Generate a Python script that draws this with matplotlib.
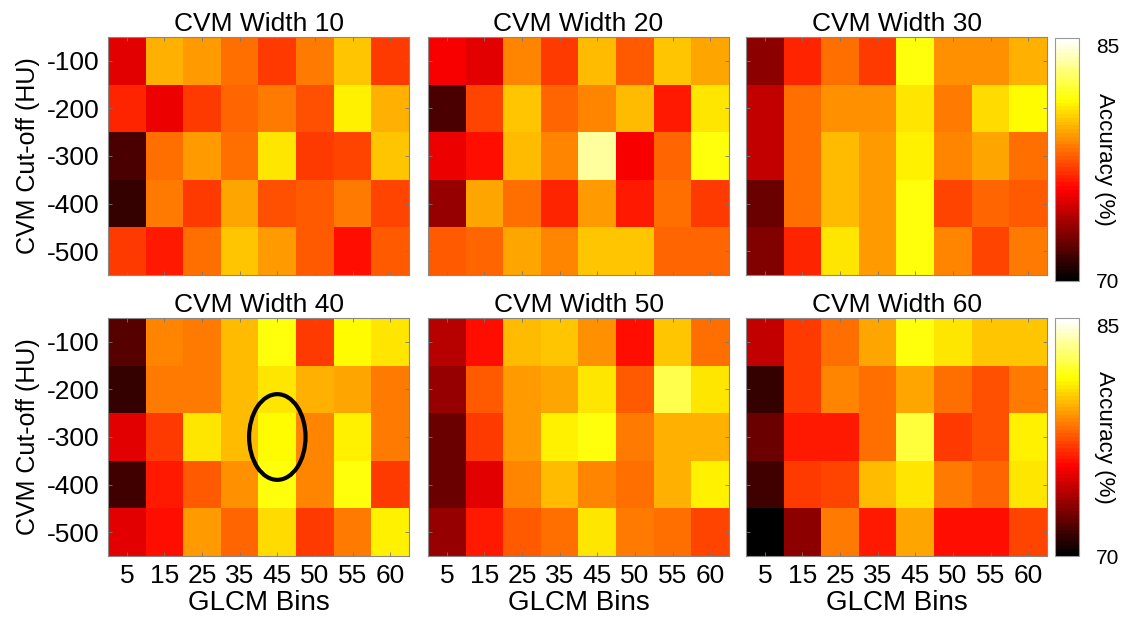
"""CVM width x cut-off x GLCM bins accuracy heatmaps (2x3 panels)."""

import matplotlib
matplotlib.use("Agg")
import matplotlib.pyplot as plt
from matplotlib.colors import LinearSegmentedColormap
from matplotlib.patches import Ellipse
import numpy as np

plt.rcParams["font.family"] = ["Liberation Sans", "DejaVu Sans"]

glcm_bins = ["5", "15", "25", "35", "45", "50", "55", "60"]
cutoffs = ["-100", "-200", "-300", "-400", "-500"]
widths = [10, 20, 30, 40, 50, 60]
vmin, vmax = 70, 85

# accuracy (%) rows = cut-off, cols = GLCM bins
acc_w10 = [
    [75.1, 79.5, 79.1, 78.1, 77.0, 78.3, 80.0, 76.9],
    [76.5, 75.3, 77.0, 77.9, 78.4, 77.4, 80.9, 79.5],
    [71.8, 78.1, 79.1, 78.1, 80.6, 76.9, 77.2, 80.0],
    [71.3, 78.3, 76.9, 79.3, 77.4, 77.6, 78.3, 77.2],
    [76.9, 76.2, 78.1, 80.0, 79.1, 77.6, 76.0, 77.6],
]
acc_w20 = [
    [75.6, 75.1, 78.6, 77.0, 79.7, 77.6, 80.0, 79.3],
    [71.7, 77.2, 79.9, 77.9, 78.6, 79.7, 76.2, 80.6],
    [75.3, 76.0, 79.7, 78.6, 83.4, 75.6, 77.9, 81.3],
    [73.5, 79.3, 78.1, 76.5, 79.1, 76.2, 78.1, 76.9],
    [77.6, 77.9, 79.3, 78.6, 80.0, 79.9, 77.9, 77.9],
]
acc_w30 = [
    [73.2, 76.5, 78.1, 77.0, 81.3, 78.8, 78.8, 79.5],
    [74.4, 78.1, 78.8, 78.8, 80.6, 78.3, 80.4, 81.1],
    [74.4, 78.1, 79.7, 79.1, 80.9, 78.6, 79.3, 78.1],
    [72.5, 78.1, 79.7, 79.1, 81.3, 77.2, 77.9, 77.6],
    [73.0, 76.5, 80.6, 79.1, 81.4, 78.6, 77.2, 78.3],
]
acc_w40 = [
    [71.9, 78.6, 78.3, 79.7, 81.3, 76.9, 81.1, 80.6],
    [71.3, 78.3, 78.3, 79.7, 80.6, 79.5, 79.3, 78.4],
    [75.1, 77.0, 80.6, 79.7, 81.1, 78.6, 80.9, 78.4],
    [71.6, 76.2, 77.6, 78.8, 81.3, 78.6, 81.3, 76.9],
    [75.1, 76.0, 79.1, 77.9, 80.4, 77.0, 78.3, 80.8],
]
acc_w50 = [
    [74.1, 76.0, 79.7, 79.9, 78.8, 76.0, 80.0, 78.1],
    [73.4, 77.6, 79.1, 79.3, 80.6, 77.6, 82.2, 80.6],
    [72.5, 76.9, 79.1, 80.9, 81.3, 78.4, 79.5, 79.5],
    [72.5, 75.1, 78.6, 79.7, 78.6, 78.1, 79.5, 80.9],
    [73.4, 76.2, 77.6, 78.1, 80.6, 78.4, 78.1, 77.2],
]
acc_w60 = [
    [74.4, 77.0, 78.1, 79.3, 81.3, 80.6, 80.0, 79.9],
    [71.2, 77.0, 78.6, 78.1, 79.3, 78.1, 77.4, 78.4],
    [72.5, 76.2, 76.2, 78.1, 82.0, 76.9, 77.4, 80.9],
    [71.6, 76.9, 77.2, 79.7, 80.6, 78.4, 77.9, 80.6],
    [70.2, 73.2, 78.4, 76.2, 79.3, 76.0, 76.0, 77.2],
]
panels = [acc_w10, acc_w20, acc_w30, acc_w40, acc_w50, acc_w60]

# best setting highlighted (width 40, 45 bins, -300 HU)
best_bin, best_cut = "45", "-300"

# MATLAB-like hot colormap
hot = LinearSegmentedColormap.from_list(
    "mhot", [(0, "black"), (3 / 8, "red"), (6 / 8, "yellow"), (1, "white")], N=64)

W, H = 1128, 617
fig = plt.figure(figsize=(W / 100, H / 100), dpi=100)


def px_axes(x0, y0, x1, y1):
    return fig.add_axes([x0 / W, 1 - y1 / H, (x1 - x0) / W, (y1 - y0) / H])


col_x = [(108, 409), (428, 729), (746, 1047)]
row_y = [(37, 275), (318, 556)]

for i, (w, data) in enumerate(zip(widths, panels)):
    r, c = divmod(i, 3)
    ax = px_axes(col_x[c][0], row_y[r][0], col_x[c][1], row_y[r][1])
    im = ax.imshow(np.array(data), cmap=hot, vmin=vmin, vmax=vmax,
                   aspect="auto", interpolation="nearest")
    ax.set_title(f"CVM Width {w}", fontsize=19, pad=4)
    ax.set_xticks(range(len(glcm_bins)))
    ax.set_yticks(range(len(cutoffs)))
    ax.tick_params(direction="in", length=3, color="#777777", width=0.6,
                   top=True, right=True, labelsize=19, pad=6)
    if r == 1:
        ax.set_xticklabels(glcm_bins)
        ax.set_xlabel("GLCM Bins", fontsize=20, labelpad=1)
    else:
        ax.set_xticklabels([])
    if c == 0:
        ax.set_yticklabels(cutoffs)
        ax.set_ylabel("CVM Cut-off (HU)", fontsize=18, labelpad=5)
    else:
        ax.set_yticklabels([])
    for s in ax.spines.values():
        s.set_color("#888888")
        s.set_linewidth(0.8)
    if w == 40:
        bx = glcm_bins.index(best_bin)
        by = cutoffs.index(best_cut)
        ax.add_patch(Ellipse((bx, by), 1.5, 1.8, fill=False,
                             edgecolor="black", linewidth=3))

    if c == 2:
        cy = (38, 281) if r == 0 else (318, 556)
        cax = px_axes(1055, cy[0], 1079, cy[1])
        cb = fig.colorbar(im, cax=cax)
        cb.set_ticks([vmin, vmax])
        cb.ax.tick_params(length=0, labelsize=15, pad=12)
        cb.outline.set_edgecolor("#999999")
        labs = cb.ax.get_yticklabels()
        labs[1].set_va("top")
        cax.annotate("Accuracy (%)", xy=(1, 0.5), xycoords="axes fraction",
                     xytext=(11, 0), textcoords="offset points",
                     rotation=270, va="center", ha="left", fontsize=16)

fig.savefig("out.png", dpi=100)
